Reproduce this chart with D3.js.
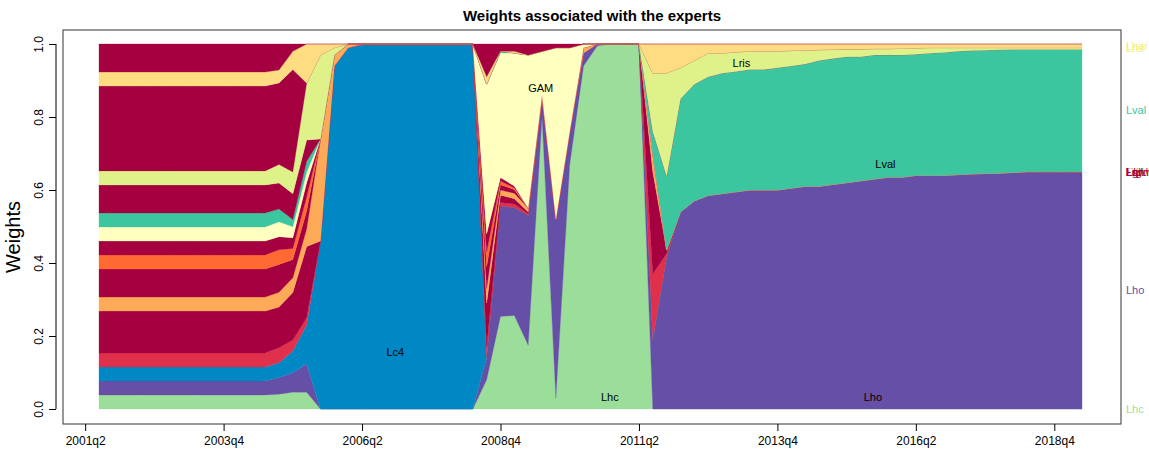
<!DOCTYPE html>
<html><head><meta charset="utf-8">
<script src="https://cdn.jsdelivr.net/npm/d3@7"></script>
<style>body{margin:0;background:#fff;font-family:"Liberation Sans",Arial,sans-serif}</style>
</head><body><svg id="c" width="1149" height="454"></svg>
<script>
// quarters 2001q3 .. 2019q2 (72)
const quarters = [];
for (let y = 2001, q = 3; quarters.length < 72; ) { quarters.push(y + "q" + q); q++; if (q > 4) { q = 1; y++; } }
const tickLabels = ["2001q2","2003q4","2006q2","2008q4","2011q2","2013q4","2016q2","2018q4"];
const tickIdx = [-1, 9, 19, 29, 39, 49, 59, 69];

const Lhc = [.0385,.0385,.0385,.0385,.0385,.0385,.0385,.0385,.0385,.0385,.0385,.0385,.0385, .04,.046,.047,0,0,0, 0,0,0,0,0,0,0,0, 0, .08,.26,.26,.175,.8,.03,.67,.94,.995, 1,1,1, 0,0,0,0,0, 0,0,0,0,0,0,0,0,0,0,0,0,0,0,0,0,0,0,0,0,0,0,0,0,0,0,0];
const Lho = [.0385,.0385,.0385,.0385,.0385,.0385,.0385,.0385,.0385,.0385,.0385,.0385,.0385, .045,.053,.08,0,0,0, 0,0,0,0,0,0,0,0, 0, .06,.31,.30,.355,.05,.49,.09,.035,.005, 0,0,0, .19,.42,.54,.57,.585, .59,.595,.6,.6,.6,.605,.61,.61,.615,.62,.625,.63,.635,.635,.64,.64,.64,.642,.644,.645,.646,.648,.65,.65,.65,.65,.65];
const Lc4 = [.0385,.0385,.0385,.0385,.0385,.0385,.0385,.0385,.0385,.0385,.0385,.0385,.0385, .04,.06,.11,.46,.94,.99, .997,.997,.997,.997,.997,.997,.997,.997, 1, 0,0,0,0,0,0,0,0,0, 0,0,0, 0,0,0,0,0, 0,0,0,0,0,0,0,0,0,0,0,0,0,0,0,0,0,0,0,0,0,0,0,0,0,0,0];
const Lred = [.0385,.0385,.0385,.0385,.0385,.0385,.0385,.0385,.0385,.0385,.0385,.0385,.0385, .04,.03,.02,0,0,0, .003,.003,.003,.003,.003,.003,.003,.003, 0, .03,.01,.01,.005,0,0,0,0,0, 0,0,0, .18,.01,0,0,0, 0,0,0,0,0,0,0,0,0,0,0,0,0,0,0,0,0,0,0,0,0,0,0,0,0,0,0];
const Lgb = [.115,.115,.115,.115,.115,.115,.115,.115,.115,.115,.115,.115,.115, .11,.13,.2,0,0,0, 0,0,0,0,0,0,0,0, 0, .12,.02,.015,.005,0,0,0,0,0, 0,0,0, .28,.01,0,0,0, 0,0,0,0,0,0,0,0,0,0,0,0,0,0,0,0,0,0,0,0,0,0,0,0,0,0,0];
const Lor = [.0385,.0385,.0385,.0385,.0385,.0385,.0385,.0385,.0385,.0385,.0385,.0385,.0385, .04,.04,.05,.28,.03,.01, 0,0,0,0,0,0,0,0, 0, .04,.015,.015,.01,.01,0,0,.015,0, 0,0,0, .05,0,0,0,0, 0,0,0,0,0,0,0,0,0,0,0,0,0,0,0,0,0,0,0,0,0,0,0,0,0,0,0];
const Elgb = [.077,.077,.077,.077,.077,.077,.077,.077,.077,.077,.077,.077,.077, .075,.05,.05,0,0,0, 0,0,0,0,0,0,0,0, 0, .06,.015,.01,0,0,0,0,0,0, 0,0,0, 0,0,0,0,0, 0,0,0,0,0,0,0,0,0,0,0,0,0,0,0,0,0,0,0,0,0,0,0,0,0,0,0];
const Lorr = [.0385,.0385,.0385,.0385,.0385,.0385,.0385,.0385,.0385,.0385,.0385,.0385,.0385, .04,.03,.04,0,0,0, 0,0,0,0,0,0,0,0, 0, .04,.01,.005,0,0,0,0,0,0, 0,0,0, 0,0,0,0,0, 0,0,0,0,0,0,0,0,0,0,0,0,0,0,0,0,0,0,0,0,0,0,0,0,0,0,0];
const Lrf = [.0385,.0385,.0385,.0385,.0385,.0385,.0385,.0385,.0385,.0385,.0385,.0385,.0385, .035,.03,.04,0,0,0, 0,0,0,0,0,0,0,0, 0, .05,.01,.005,0,0,0,0,0,0, 0,0,0, 0,0,0,0,0, 0,0,0,0,0,0,0,0,0,0,0,0,0,0,0,0,0,0,0,0,0,0,0,0,0,0,0];
const GAM = [.0385,.0385,.0385,.0385,.0385,.0385,.0385,.0385,.0385,.0385,.0385,.0385,.0385, .04,.03,.03,0,0,0, 0,0,0,0,0,0,0,0, 0, .41,.35,.37,.42,.12,.47,.23,.01,0, 0,0,0, 0,0,0,0,0, 0,0,0,0,0,0,0,0,0,0,0,0,0,0,0,0,0,0,0,0,0,0,0,0,0,0,0];
const Lval = [.0385,.0385,.0385,.0385,.0385,.0385,.0385,.0385,.0385,.0385,.0385,.0385,.0385, .035,.02,.03,0,0,0, 0,0,0,0,0,0,0,0, 0, 0,.005,0,0,0,0,0,0,0, 0,0,0, .06,.205,.31,.32,.325, .33,.33,.33,.33,.335,.335,.335,.345,.345,.345,.34,.34,.335,.335,.332,.335,.337,.338,.338,.338,.338,.337,.335,.335,.335,.335,.335];
const Lsvm = [.077,.077,.077,.077,.077,.077,.077,.077,.077,.077,.077,.077,.077, .07,.07,.06,0,0,0, 0,0,0,0,0,0,0,0, 0, 0,0,0,0,0,0,0,0,0, 0,0,0, 0,0,0,0,0, 0,0,0,0,0,0,0,0,0,0,0,0,0,0,0,0,0,0,0,0,0,0,0,0,0,0,0];
const Lris = [.0385,.0385,.0385,.0385,.0385,.0385,.0385,.0385,.0385,.0385,.0385,.0385,.0385, .05,.06,.16,.23,.02,0, 0,0,0,0,0,0,0,0, 0, 0,0,0,0,0,0,0,0,0, 0,0,0, .16,.285,.085,.065,.065, .055,.053,.05,.05,.045,.042,.038,.029,.025,.021,.021,.017,.017,.018,.017,.015,.013,.01,.008,.007,.006,.005,.005,.005,.005,.005,.005];
const Lnn = [.233,.233,.233,.233,.233,.233,.233,.233,.233,.233,.233,.233,.233, .22,.28,0,0,0,0, 0,0,0,0,0,0,0,0, 0, 0,0,0,0,0,0,0,0,0, 0,0,0, 0,0,0,0,0, 0,0,0,0,0,0,0,0,0,0,0,0,0,0,0,0,0,0,0,0,0,0,0,0,0,0,0];
const Lhar = [.0385,.0385,.0385,.0385,.0385,.0385,.0385,.0385,.0385,.0385,.0385,.0385,.0385, .035,.05,.11,.03,.01,0, 0,0,0,0,0,0,0,0, 0, .02,0,.005,0,0,0,0,0,0, 0,0,0, .08,.08,.065,.045,.025, .025,.022,.02,.02,.02,.018,.017,.016,.015,.014,.014,.013,.013,.012,.011,.01,.01,.01,.01,.01,.01,.01,.01,.01,.01,.01,.01];
const Lqr = [.077,.077,.077,.077,.077,.077,.077,.077,.077,.077,.077,.077,.077, .07,.02,0,0,0,0, 0,0,0,0,0,0,0,0, 0, .09,.02,.02,.03,.02,.01,.01,0,0, 0,0,0, 0,0,0,0,0, 0,0,0,0,0,0,0,0,0,0,0,0,0,0,0,0,0,0,0,0,0,0,0,0,0,0,0];

const seriesNames = ["Lhc","Lho","Lc4","Lred","Lgb","Lor","Elgb","Lorr","Lrf","GAM","Lval","Lsvm","Lris","Lnn","Lhar","Lqr"];
const seriesVals = [Lhc,Lho,Lc4,Lred,Lgb,Lor,Elgb,Lorr,Lrf,GAM,Lval,Lsvm,Lris,Lnn,Lhar,Lqr];
const seriesColors = ["#9ADE9A","#664FA6","#0088C4","#E0304C","#A5003F","#FCAA58","#A5003F","#FF6A33","#A5003F","#FFFFBF","#3CC6A0","#A5003F","#DFF28A","#A5003F","#FDDC82","#A5003F"];
const labelColors = ["#9ADE9A","#664FA6","#0088C4","#E0304C","#A5003F","#FCAA58","#A5003F","#FF6A33","#A5003F","#F2F2A0","#3CC6A0","#A5003F","#DFF28A","#A5003F","#FDEB70","#A5003F"];

const inLabels = [["Lc4",21.4,.156],["GAM",31.9,.879],["Lhc",36.9,.033],["Lris",46.4,.948],["Lval",56.8,.671],["Lho",55.9,.033]];

const rows = quarters.map((q,i)=>{
  const r = {i}; let s = 0;
  seriesNames.forEach((n,k)=>{ s += seriesVals[k][i]; });
  seriesNames.forEach((n,k)=>{ r[n] = seriesVals[k][i] / s; });
  return r;
});
const stack = d3.stack().keys(seriesNames)(rows);

const svg = d3.select("#c");
const x = d3.scaleLinear().domain([0,71]).range([99,1082]);
const y = d3.scaleLinear().domain([0,1]).range([409,44]);
const area = d3.area().x(d=>x(d.data.i)).y0(d=>y(d[0])).y1(d=>y(d[1]));

svg.append("g").selectAll("path").data(stack).join("path")
  .attr("d",area).attr("fill",(d,k)=>seriesColors[k])
  .attr("stroke",(d,k)=>seriesColors[k]).attr("stroke-width",0.3);

svg.append("rect").attr("x",63).attr("y",30).attr("width",1058).attr("height",394)
  .attr("fill","none").attr("stroke","#333").attr("stroke-width",1);

const xa = svg.append("g").attr("transform","translate(0,424)")
  .call(d3.axisBottom(x).tickValues(tickIdx).tickFormat((d,k)=>tickLabels[k]).tickSize(7).tickSizeOuter(0));
xa.select(".domain").remove();
xa.selectAll("text").attr("font-size",12).attr("fill","#000").attr("dy","0.9em");
xa.selectAll("line").attr("stroke","#000");

const ya = svg.append("g").attr("transform","translate(56,0)")
  .call(d3.axisLeft(y).tickValues([0,.2,.4,.6,.8,1]).tickFormat(d3.format(".1f")).tickSize(0));
ya.select(".domain").attr("d","M0,409V44").attr("stroke","#000");
ya.selectAll(".tick").each(function(d){
  const g = d3.select(this);
  g.select("line").attr("x1",0).attr("x2",-7);
  g.select("text").attr("x",0).attr("y",0).attr("dy",0).attr("text-anchor","middle")
    .attr("transform","translate(-13,0) rotate(-90)").attr("font-size",12).attr("fill","#000");
});
ya.selectAll("line").attr("stroke","#000");

svg.append("text").attr("x",20).attr("y",237).attr("transform","rotate(-90,20,237)")
  .attr("text-anchor","middle").attr("font-size",20).text("Weights");
svg.append("text").attr("x",592).attr("y",21).attr("text-anchor","middle")
  .attr("font-size",15).attr("font-weight","bold").text("Weights associated with the experts");

svg.append("g").selectAll("text").data(inLabels).join("text")
  .attr("x",d=>x(d[1])).attr("y",d=>y(d[2])).attr("dy","0.35em").attr("text-anchor","middle")
  .attr("font-size",11).attr("fill","#000").text(d=>d[0]);

// right labels: at midpoint of last band; vanished experts between Lho and Lval sit on top of Lho
const lastLho = stack[1][71][1];
const keepOwn = ["Lhc","Lho","Lval","Lris","Lhar"];
svg.append("g").selectAll("text").data(stack).join("text")
  .attr("x",1126)
  .attr("y",d=>y(keepOwn.includes(d.key) ? (d[71][0]+d[71][1])/2 : lastLho))
  .attr("dy","0.35em")
  .attr("font-size",11).attr("fill",(d,k)=>labelColors[k]).text(d=>d.key);
</script></body></html>
